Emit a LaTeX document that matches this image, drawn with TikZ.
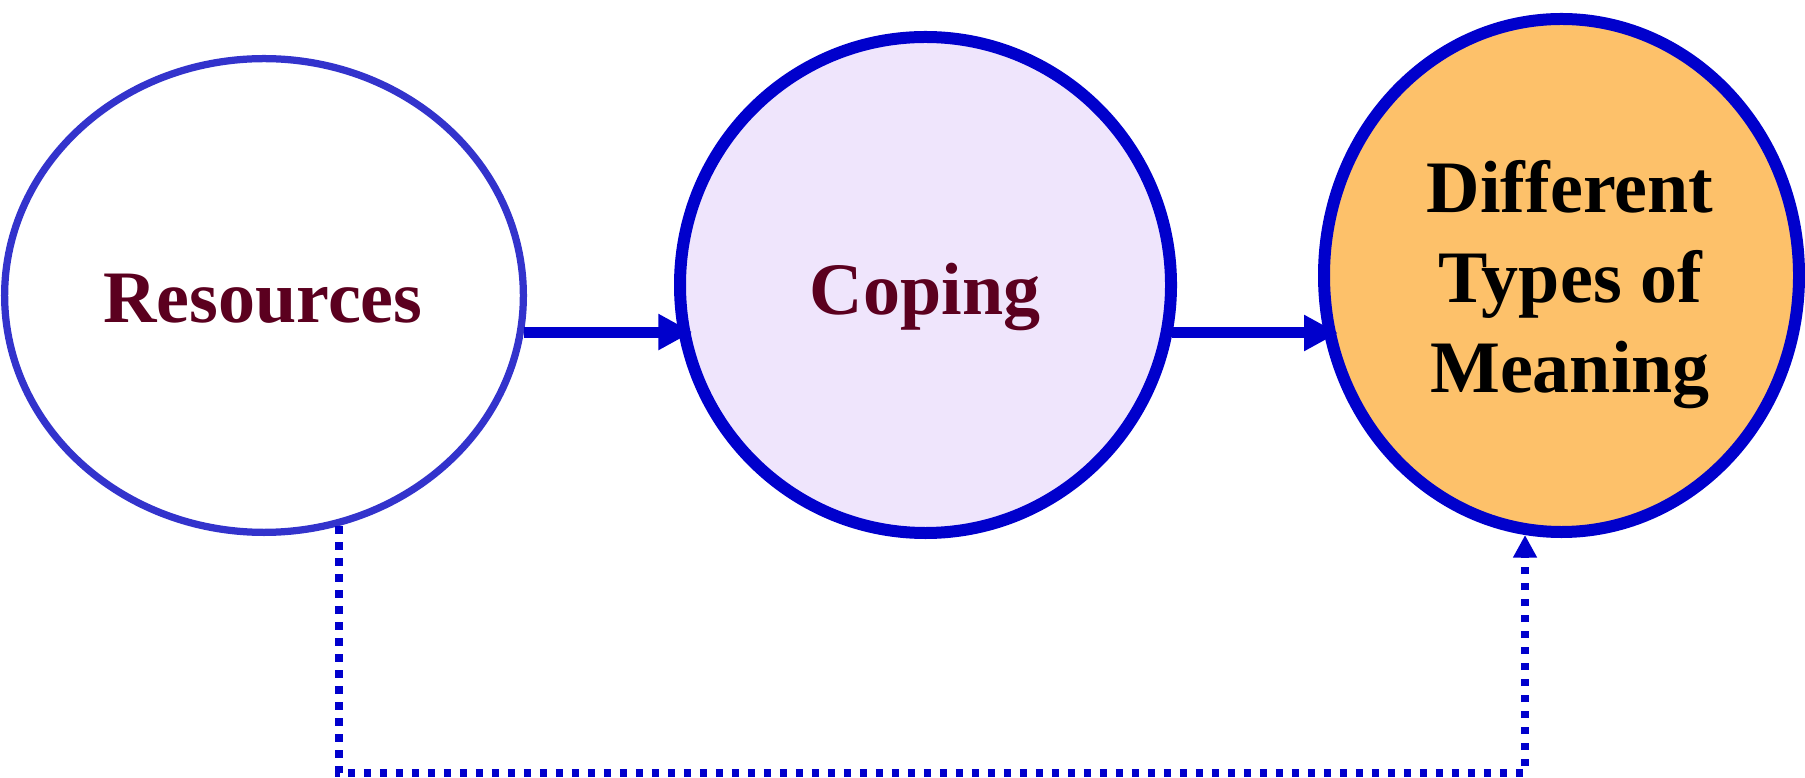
\documentclass[tikz,border=0pt]{standalone}
\usepackage{fontspec}
\setmainfont{Liberation Serif}
\usetikzlibrary{arrows.meta,shapes.geometric}
\definecolor{blueA}{RGB}{0,0,204}
\definecolor{blueB}{RGB}{51,51,204}
\definecolor{wine}{RGB}{91,0,31}
\definecolor{lav}{RGB}{239,229,252}
\definecolor{peach}{RGB}{253,193,106}
\tikzset{
  ellbase/.style={ellipse, inner sep=0pt, outer sep=auto},
  resell/.style={ellbase, draw=blueB, line width=2.9pt, fill=white, minimum width=207.5pt, minimum height=189.5pt},
  copell/.style={ellbase, draw=blueA, line width=4.8pt, fill=lav, minimum width=196.4pt, minimum height=198.4pt},
  meanell/.style={ellbase, draw=blueA, line width=4.8pt, fill=peach, minimum width=190pt, minimum height=205.2pt},
  lbl/.style={inner sep=0pt, font=\fontsize{29.6}{36}\selectfont\bfseries, anchor=base},
  solidarrow/.style={draw=blueA, line width=4.4pt, -{Triangle[length=13.6pt,width=13.6pt]}, shorten >=-5.5pt},
  dotarrow/.style={draw=blueA, line width=3pt, dash pattern=on 3pt off 3.4pt, -{Triangle[length=9pt,width=9pt]}}
}
\begin{document}
\begin{tikzpicture}[x=0.4pt,y=-0.4pt]
\useasboundingbox (0,0) rectangle (1805,778);
\node[resell] (res) at (264,295.5) {};
\node[copell] (cop) at (925.5,285) {};
\node[meanell] (mean) at (1561.5,275.5) {};
\node[lbl, text=wine] (resT) at (263,323) {Resources};
\node[lbl, text=wine] (copT) at (925,315) {Coping};
\node[lbl, text=black, align=center] (meanT) at (1570,393) {Different\\Types of\\Meaning};
\coordinate (bot) at (0,773);
\draw[solidarrow] (res.-8.8) -- (res.-8.8 -| cop.191.5);
\draw[solidarrow] (cop.-11.5) -- (cop.-11.5 -| mean.194.1);
\draw[dotarrow] (res.-72) -- (res.-72 |- bot) -- (mean.262.7 |- bot) -- (mean.262.7);
\end{tikzpicture}
\end{document}
